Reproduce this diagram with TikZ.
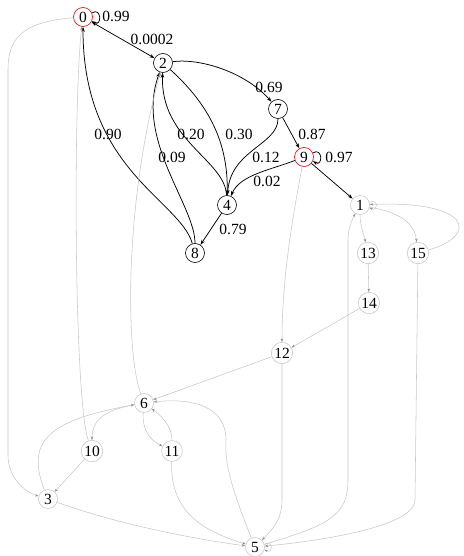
\documentclass[tikz,border=0pt]{standalone}
\usepackage{fontspec}
\setmainfont{Liberation Serif}
\usetikzlibrary{arrows.meta}
\begin{document}
\begin{tikzpicture}[x=1pt,y=-1pt,
  nd/.style={circle,draw=black,line width=0.6pt,inner sep=1pt,minimum size=19pt,font=\fontsize{15.5}{15.5}\selectfont},
  gnd/.style={nd,draw=black!22},
  rnd/.style={nd,draw=red!85!black},
  bk/.style={draw=black,line width=0.75pt,-{Stealth[length=5pt,width=3.5pt]}},
  gr/.style={draw=black!22,line width=0.55pt,-{Stealth[length=3.5pt,width=2.5pt,color=black!45]}},
  lb/.style={font=\fontsize{15.5}{15.5}\selectfont,inner sep=0pt}]
\useasboundingbox (0,0) rectangle (463,556);
% nodes
\node[rnd] (n0) at (83,17) {0};
\node[nd] (n2) at (163,63) {2};
\node[nd] (n7) at (278,109) {7};
\node[rnd] (n9) at (304,157) {9};
\node[nd] (n4) at (227,205) {4};
\node[nd] (n8) at (195,253) {8};
\node[gnd] (n1) at (360,205) {1};
\node[gnd] (n13) at (368,253) {13};
\node[gnd] (n15) at (418,253) {15};
\node[gnd] (n14) at (369,303) {14};
\node[gnd] (n12) at (282,353) {12};
\node[gnd] (n6) at (144,403) {6};
\node[gnd] (n10) at (92,451) {10};
\node[gnd] (n11) at (172,451) {11};
\node[gnd] (n3) at (48,499) {3};
\node[gnd] (n5) at (255,547) {5};
% labels
\node[lb] (l099) at (116,16) {0.99};
\node[lb] (l0002) at (152,39) {0.0002};
\node[lb] (l069) at (269,87) {0.69};
\node[lb] (l090) at (108,134) {0.90};
\node[lb] (l020) at (191,134) {0.20};
\node[lb] (l030) at (239,134) {0.30};
\node[lb] (l087) at (312,134) {0.87};
\node[lb] (l097) at (339,157) {0.97};
\node[lb] (l012) at (266,157) {0.12};
\node[lb] (l002) at (267,181) {0.02};
\node[lb] (l009) at (172,157) {0.09};
\node[lb] (l079) at (233,229) {0.79};
% black edges
\draw[bk,{Stealth[length=5pt,width=3.5pt]}-{Stealth[length=5pt,width=3.5pt]}] (n0) -- (n2);
\draw[bk] (n0.25) .. controls +(10,-6) and +(10,6) .. (n0.-25);
\draw[bk] (n2) .. controls (200,58) and (245,72) .. (n7);
\draw[bk] (n2) .. controls (215,110) and (228,150) .. (n4);
\draw[bk] (n4) .. controls (225,160) and (160,140) .. (n2);
\draw[bk] (n8) .. controls (195,205) and (135,140) .. (n2);
\draw[bk] (n8) .. controls (180,200) and (83,170) .. (n0);
\draw[bk] (n7) .. controls (278,145) and (230,150) .. (n4);
\draw[bk] (n9) .. controls (270,170) and (240,175) .. (n4);
\draw[bk] (n7) -- (n9);
\draw[bk] (n9.25) .. controls +(10,-6) and +(10,6) .. (n9.-25);
\draw[bk] (n9) -- (n1);
\draw[bk] (n4) -- (n8);
% gray edges
\draw[gr] (n0) .. controls (20,22) and (8,40) .. (8,70) -- (8,455) .. controls (8,478) and (25,492) .. (n3);
\draw[gr] (n10) .. controls (74,400) and (73,100) .. (n0);
\draw[gr] (n6) .. controls (125,350) and (125,200) .. (n2);
\draw[gr] (n9) .. controls (292,220) and (282,280) .. (n12);
\draw[gr] (n1.15) .. controls +(9,-5) and +(9,5) .. (n1.-15);
\draw[gr] (n1) .. controls (360,225) and (364,235) .. (n13);
\draw[gr] (n1) .. controls (395,212) and (414,220) .. (n15);
\draw[gr] (n15) .. controls (480,235) and (470,200) .. (n1);
\draw[gr] (n13) -- (n14);
\draw[gr] (n14) -- (n12);
\draw[gr] (n12) -- (n6);
\draw[gr] (n12) -- (282,500) .. controls (282,520) and (272,530) .. (n5);
\draw[gr] (n5) .. controls (330,525) and (348,515) .. (348,480) -- (348,240) .. controls (348,228) and (352,220) .. (n1);
\draw[gr] (n15) -- (415,500) .. controls (415,525) and (330,540) .. (n5);
\draw[gr] (n5.15) .. controls +(9,-5) and +(9,5) .. (n5.-15);
\draw[gr] (n3) .. controls (120,525) and (200,540) .. (n5);
\draw[gr] (n11) .. controls (170,510) and (200,530) .. (n5);
\draw[gr] (n5) .. controls (228,480) and (225,460) .. (226,440) .. controls (226,405) and (190,398) .. (n6);
\draw[gr] (n6) .. controls (105,410) and (92,420) .. (n10);
\draw[gr] (n10) -- (n3);
\draw[gr] (n6) .. controls (142,430) and (150,440) .. (n11);
\draw[gr] (n11) .. controls (172,425) and (160,415) .. (n6);
\draw[gr] (n3) .. controls (25,440) and (50,420) .. (n6);
\end{tikzpicture}
\end{document}
